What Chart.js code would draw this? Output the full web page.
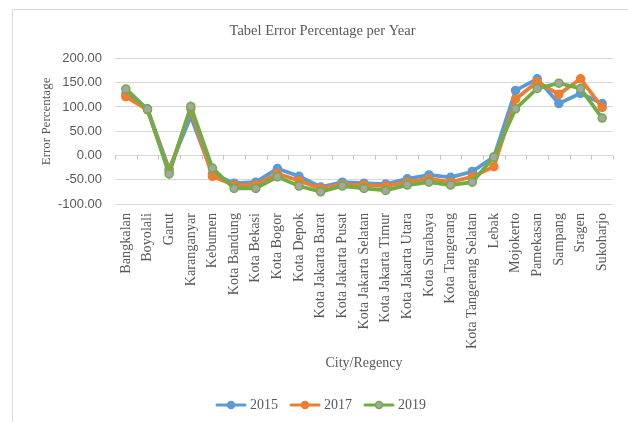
<!DOCTYPE html>
<html>
<head>
<meta charset="utf-8">
<script src="https://cdn.jsdelivr.net/npm/chart.js@4"></script>
<style>
  html, body { margin: 0; padding: 0; background: #fff; }
  #wrap { position: relative; width: 628px; height: 422px; }
</style>
</head>
<body>
<div id="wrap"><canvas id="canvas"></canvas></div>
<script>
const categories = ["Bangkalan", "Boyolali", "Garut", "Karanganyar", "Kebumen", "Kota Bandung",
  "Kota Bekasi", "Kota Bogor", "Kota Depok", "Kota Jakarta Barat", "Kota Jakarta Pusat",
  "Kota Jakarta Selatan", "Kota Jakarta Timur", "Kota Jakarta Utara", "Kota Surabaya",
  "Kota Tangerang", "Kota Tangerang Selatan", "Lebak", "Mojokerto", "Pamekasan", "Sampang",
  "Sragen", "Sukoharjo"];

const err2015 = [127, 96, -28, 80, -38, -57, -55, -27, -43, -65, -55, -57, -59, -48, -40, -45, -33, -3, 134, 158, 107, 128, 107];
const err2017 = [121, 94, -33, 96, -43, -61, -61, -37, -52, -68, -60, -61, -63, -55, -48, -55, -44, -23, 116, 152, 126, 158, 99];
const err2019 = [137, 95, -38, 101, -26, -68, -68, -44, -63, -75, -63, -68, -72, -61, -55, -61, -55, -3, 96, 138, 149, 138, 77];

const yTicks = [200, 150, 100, 50, 0, -50, -100];

const textColor = "#595959";
const gridColor = "#D9D9D9";
const serif = "'Liberation Serif', 'Times New Roman', serif";

// legend swatch: short line with a marker in the middle
function swatch(line, fill) {
  const c = document.createElement("canvas");
  c.width = 32; c.height = 10;
  const g = c.getContext("2d");
  g.strokeStyle = line; g.lineWidth = 3; g.lineCap = "round";
  g.beginPath(); g.moveTo(2, 5); g.lineTo(30, 5); g.stroke();
  g.fillStyle = fill; g.lineWidth = 1.5;
  g.beginPath(); g.arc(16, 5, 3.5, 0, Math.PI * 2); g.fill(); g.stroke();
  return c;
}

const series = [
  { label: "2015", data: err2015, line: "#5B9BD5", fill: "#5B9BD5", order: 3 },
  { label: "2017", data: err2017, line: "#ED7D31", fill: "#ED7D31", order: 2 },
  { label: "2019", data: err2019, line: "#70AD47", fill: "#A5A5A5", order: 1 }
];

// frame on the left/top edge and little ticks along the zero line
const decor = {
  id: "decor",
  beforeDraw(chart) {
    const ctx = chart.ctx;
    ctx.save();
    ctx.fillStyle = "#fff";
    ctx.fillRect(0, 0, chart.width, chart.height);
    ctx.strokeStyle = gridColor;
    ctx.lineWidth = 1;
    ctx.beginPath();
    ctx.moveTo(12.5, chart.height);
    ctx.lineTo(12.5, 9.5);
    ctx.lineTo(chart.width, 9.5);
    ctx.stroke();
    ctx.restore();
  },
  beforeDatasetsDraw(chart) {
    const { ctx, chartArea, scales } = chart;
    const y0 = Math.round(scales.y.getPixelForValue(0)) + 0.5;
    const step = (chartArea.right - chartArea.left) / categories.length;
    ctx.save();
    ctx.strokeStyle = "#BFBFBF";
    ctx.lineWidth = 1;
    ctx.beginPath();
    for (let i = 0; i <= categories.length; i++) {
      const x = Math.round(chartArea.left + i * step) + 0.5;
      ctx.moveTo(x, y0);
      ctx.lineTo(x, y0 + 4);
    }
    ctx.stroke();
    ctx.restore();
  }
};

new Chart(document.getElementById("canvas"), {
  type: "line",
  data: {
    labels: categories,
    datasets: series.map(s => ({
      label: s.label,
      data: s.data,
      order: s.order,
      borderColor: s.line,
      backgroundColor: s.fill,
      pointBackgroundColor: s.fill,
      pointBorderColor: s.line,
      pointRadius: 4,
      pointBorderWidth: 1.5,
      borderWidth: 3.75,
      tension: 0,
      fill: false
    }))
  },
  options: {
    responsive: true,
    maintainAspectRatio: false,
    animation: false,
    layout: { padding: { left: 32, right: 15, top: 0, bottom: 0 } },
    plugins: {
      tooltip: { enabled: false },
      title: {
        display: true,
        text: "Tabel Error Percentage per Year",
        color: textColor,
        font: { family: serif, size: 14.5, weight: "normal" },
        padding: { top: 22, bottom: 19 }
      },
      legend: {
        position: "bottom",
        labels: {
          color: textColor,
          font: { family: serif, size: 14 },
          usePointStyle: true,
          pointStyleWidth: 24,
          padding: 15,
          generateLabels: () => series.map((s, i) => ({
            text: s.label,
            fontColor: textColor,
            pointStyle: swatch(s.line, s.fill),
            datasetIndex: i,
            lineWidth: 0,
            hidden: false
          }))
        }
      }
    },
    scales: {
      x: {
        offset: true,
        afterFit: axis => { axis.height = 179; },
        grid: { display: false },
        border: { display: false },
        ticks: {
          color: textColor,
          font: { family: serif, size: 14.2 },
          maxRotation: 90,
          minRotation: 90,
          autoSkip: false,
          padding: 1
        },
        title: {
          display: true,
          text: "City/Regency",
          color: textColor,
          font: { family: serif, size: 14 },
          padding: { top: 0, bottom: 11 }
        }
      },
      y: {
        min: -100,
        max: 200,
        afterBuildTicks: axis => { axis.ticks = yTicks.map(v => ({ value: v })); },
        afterFit: axis => { axis.width = 83; },
        grid: { color: gridColor, lineWidth: 1, drawTicks: false },
        border: { display: false },
        ticks: {
          color: textColor,
          font: { family: "'Liberation Sans', Arial, sans-serif", size: 13 },
          padding: 13,
          callback: v => v.toFixed(2)
        },
        title: {
          display: true,
          text: "      Error Percentage",
          color: textColor,
          font: { family: serif, size: 13 },
          padding: { top: 7, bottom: 2 }
        }
      }
    }
  },
  plugins: [decor]
});
</script>
</body>
</html>
